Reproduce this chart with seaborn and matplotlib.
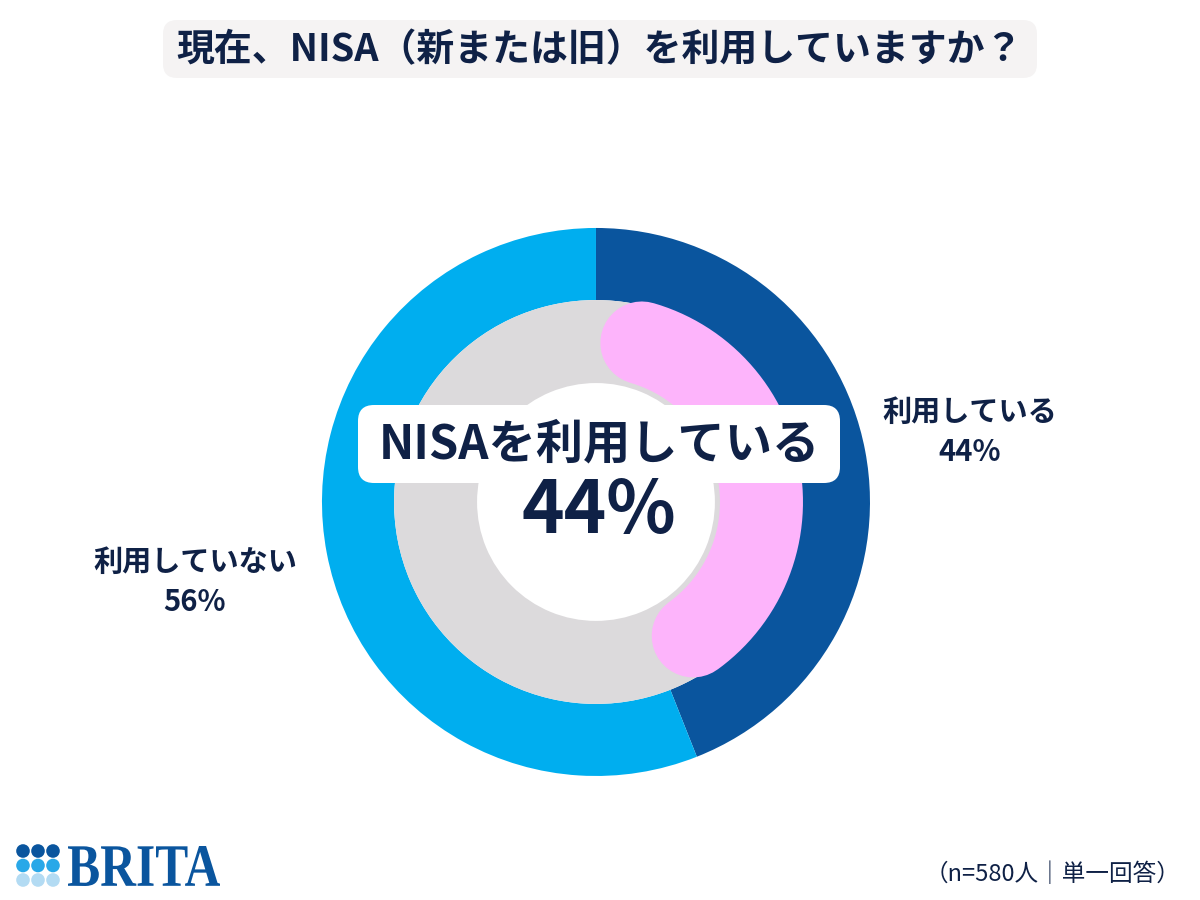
import numpy as np
import matplotlib
matplotlib.use("Agg")
import matplotlib.pyplot as plt
import seaborn as sns
from matplotlib.patches import FancyBboxPatch, PathPatch, Circle
from matplotlib.textpath import TextPath
from matplotlib.font_manager import FontProperties
from matplotlib.transforms import Affine2D

# ---- data ----
title = "現在、NISA（新または旧）を利用していますか？"
categories = ["利用している", "利用していない"]
shares = [44, 56]
center_label = "NISAを利用している"
footnote = "（n=580人｜単一回答）"
brand = "BRITA"

sns.set_theme(style="white")
plt.rcParams['font.family'] = ['Noto Sans CJK JP', 'DejaVu Sans']

outer_colors = sns.color_palette(["#0A559E", "#00AEEF"])
ring_gray = "#DCDADC"
accent_pink = "#FDB4FB"
navy = "#0F2146"

fig = plt.figure(figsize=(12, 9), dpi=100)
fig.patch.set_facecolor("white")

# ---- donut ----
ax = fig.add_axes([0.2683, 0.1378, 0.4567, 0.6089])
ax.pie(shares, colors=outer_colors, startangle=90, counterclock=False,
       radius=1.0, wedgeprops=dict(width=0.263, linewidth=0))
ax.pie([1], colors=[ring_gray], radius=0.737,
       wedgeprops=dict(width=0.303, linewidth=0))

r_mid = 0.604
band_px = 83
cap_deg = np.degrees((band_px / 2 / 274) / r_mid)
theta = np.radians(np.linspace(90 - cap_deg * 1.12, 90 - 3.6 * shares[0] + cap_deg, 300))
ax.plot(r_mid * np.cos(theta), r_mid * np.sin(theta), color=accent_pink,
        lw=band_px * 72 / 100, solid_capstyle='round', zorder=5)
ax.set_xlim(-1, 1)
ax.set_ylim(-1, 1)
ax.set_aspect('equal')
ax.axis('off')

# ---- overlay in pixel coordinates ----
ov = fig.add_axes([0, 0, 1, 1], zorder=3)
ov.set_xlim(0, 1200)
ov.set_ylim(900, 0)
ov.axis('off')
ov.patch.set_alpha(0)

ov.add_patch(FancyBboxPatch((163, 20), 874, 58,
                            boxstyle="round,pad=0,rounding_size=14",
                            fc="#F5F3F3", ec="none"))
ov.text(600, 50, title, ha='center', va='center', fontsize=27.3,
        fontweight='bold', color=navy)

ov.add_patch(FancyBboxPatch((358, 405), 482, 78,
                            boxstyle="round,pad=0,rounding_size=16",
                            fc="white", ec="none"))
ov.text(599, 444, center_label, ha='center', va='center', fontsize=34,
        fontweight='bold', color=navy)
ov.text(599, 512, f"{shares[0]}%", ha='center', va='center', fontsize=52,
        fontweight='bold', color=navy)

ov.text(970, 412, categories[0], ha='center', va='center', fontsize=21,
        fontweight='bold', color=navy)
ov.text(970, 452, f"{shares[0]}%", ha='center', va='center', fontsize=21,
        fontweight='bold', color=navy)
ov.text(195, 562, categories[1], ha='center', va='center', fontsize=21,
        fontweight='bold', color=navy)
ov.text(195, 602, f"{shares[1]}%", ha='center', va='center', fontsize=21,
        fontweight='bold', color=navy)

ov.text(1180, 874, footnote, ha='right', va='center', fontsize=17, color=navy)

# ---- logo ----
dot_colors = ["#0A559E", "#29A8E8", "#B3DBF3"]
for j, c in enumerate(dot_colors):
    for i in range(3):
        ov.add_patch(Circle((23 + 15 * i, 851 + 14.5 * j), 6.8, fc=c, ec='none'))
fp = FontProperties(family='Liberation Serif', weight='bold')
tp = TextPath((0, 0), brand, size=100, prop=fp)
bb = tp.get_extents()
t = Affine2D().translate(-bb.x0, -bb.y0).scale(152 / bb.width, -40 / bb.height).translate(68, 886)
ov.add_patch(PathPatch(tp, transform=t + ov.transData, fc="#0A559E", ec='none'))

fig.savefig("out.png", dpi=100, facecolor="white")
